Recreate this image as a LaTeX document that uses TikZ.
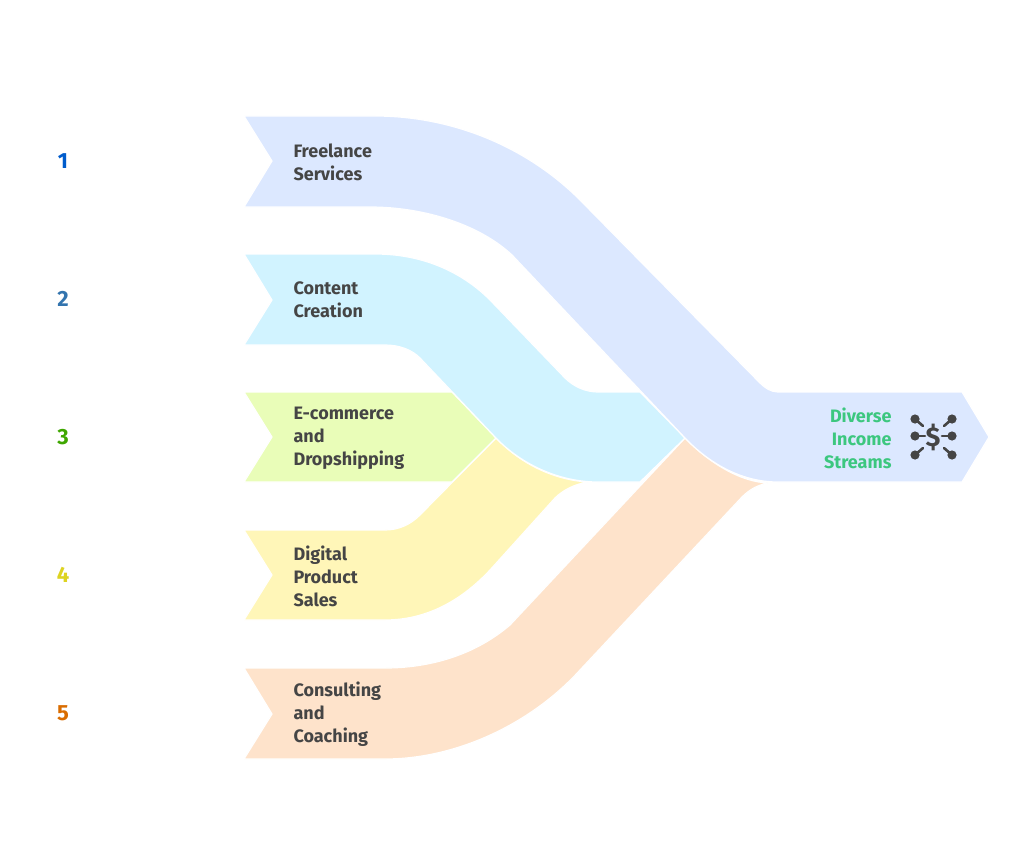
\documentclass[tikz,border=0pt]{standalone}
\usepackage{fontspec}
\setmainfont{Fira Sans}
\definecolor{bandblue}{HTML}{DCE8FF}
\definecolor{bandsky}{HTML}{D1F3FF}
\definecolor{bandlime}{HTML}{E9FDB8}
\definecolor{bandyellow}{HTML}{FFF6B8}
\definecolor{bandpeach}{HTML}{FEE3CB}
\definecolor{inkgrey}{HTML}{454545}
\begin{document}
\begin{tikzpicture}[x=1pt,y=-1pt,node distance=138pt,
	band/.style = {draw=white, line width=1.2pt, line join=round},
	main/.style = {anchor=west, align=left, text=inkgrey, font=\fontsize{18}{23}\selectfont\bfseries},
	num/.style = {font=\fontsize{22}{24}\selectfont\bfseries},
	spoke/.style = {draw=inkgrey, line width=2.6pt, line cap=round}]
	\useasboundingbox (0,0) rectangle (1024,840);

	% bands, back to front
	\fill[band,fill=bandyellow] (244,530) -- (385,530) .. controls (398,530) and (410,525) .. (420,515) -- (496,438) .. controls (522,465) and (555,480) .. (588,482) .. controls (575,484) and (563,490) .. (555,498) -- (490,570) .. controls (460,602) and (425,620) .. (385,620) -- (244,620) -- (272,575) -- cycle;
	\fill[band,fill=bandlime] (244,392) -- (452,392) -- (496,438) -- (452,482) -- (244,482) -- (272,437) -- cycle;
	\fill[band,fill=bandpeach] (244,668) -- (385,668) .. controls (430,668) and (475,655) .. (510,625) -- (685,438) .. controls (708,462) and (740,482) .. (768,483) .. controls (758,485) and (750,489) .. (742,497) -- (580,670) .. controls (530,725) and (455,759) .. (385,759) -- (244,759) -- (272,714) -- cycle;
	\fill[band,fill=bandsky] (244,254) -- (375,254) .. controls (420,254) and (460,270) .. (490,300) -- (565,378) .. controls (574,387) and (586,392) .. (598,392) -- (640,392) -- (685,438) -- (640,482) -- (598,482) .. controls (560,482) and (522,465) .. (496,438) -- (420,358) .. controls (412,350) and (400,345) .. (385,345) -- (244,345) -- (272,300) -- cycle;
	\fill[band,fill=bandblue] (244,116) -- (375,116) .. controls (450,116) and (525,145) .. (580,200) -- (760,383) .. controls (765,388) and (771,392) .. (778,392) -- (962,392) -- (989,437) -- (962,482) -- (778,482) .. controls (740,482) and (708,462) .. (685,438) -- (512,255) .. controls (480,225) and (425,207) .. (370,207) -- (244,207) -- (272,161) -- cycle;

	\node[num,text=blue!55!cyan!80!black] (n1) at (63,161) {1};
	\node[num,text=cyan!60!blue!80!black] (n2) [below of=n1] {2};
	\node[num,text=lime!50!green!65!black] (n3) [below of=n2] {3};
	\node[num,text=yellow!85!black] (n4) [below of=n3] {4};
	\node[num,text=orange!85!black] (n5) [below of=n4] {5};

	\node[main] (freelance) at (290,162) {Freelance\\Services};
	\node[main] (content) at (290,300) {Content\\Creation};
	\node[main] (ecommerce) at (290,438) {E-commerce\\and\\Dropshipping};
	\node[main] (digital) at (290,576) {Digital\\Product\\Sales};
	\node[main] (consulting) at (290,714) {Consulting\\and\\Coaching};
	\node[main,anchor=east,align=right,text={rgb,255:red,60;green,199;blue,127}] (diverse) at (895,438) {Diverse\\Income\\Streams};

	% money icon
	\node[text=inkgrey,font=\fontsize{27}{27}\selectfont\bfseries] (dollar) at (933,437) {\$};
	\foreach \bx/\by/\ex/\ey in {915/419/923/426, 952/419/944/426, 915/436/925/436, 952/436/942/436, 915/455/923/448, 952/455/944/448}{
		\draw[spoke] (\bx,\by) -- (\ex,\ey);
		\fill[inkgrey] (\bx,\by) circle (4.6pt);
	}
\end{tikzpicture}
\end{document}
